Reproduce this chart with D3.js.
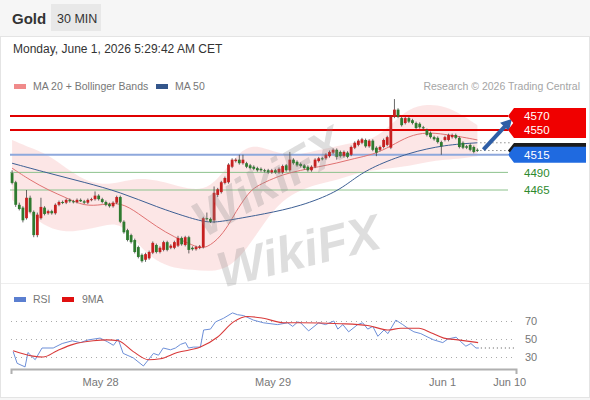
<!DOCTYPE html>
<html>
<head>
<meta charset="utf-8">
<script src="https://cdn.jsdelivr.net/npm/d3@7"></script>
<style>
  body { margin: 0; background: #fff; font-family: "Liberation Sans", Arial, sans-serif; }
</style>
</head>
<body>
<div id="chart"></div>
<script>
// candles, 30 min, index 0 = first bar on screen
const candleOpen = [
  4489,4476,4444,4440,4425,4454,4434,4401,4425,4440,
  4432,4435,4432,4444,4448,4447,4451,4449,4448,4451,
  4449,4447,4451,4452,4457,4452,4448,4445,4442,4447,
  4455,4420,4408,4401,4394,4384,4373,4366,4368,4376,
  4387,4377,4380,4391,4383,4383,4386,4397,4387,4398,
  4383,4381,4383,4384,4425,4424,4422,4458,4462,4475,
  4476,4498,4506,4508,4503,4503,4500,4498,4496,4495,
  4493,4493,4490,4493,4490,4490,4500,4493,4508,4505,
  4502,4500,4498,4493,4498,4506,4510,4510,4513,4518,
  4522,4519,4513,4518,4515,4525,4529,4532,4536,4527,
  4535,4525,4522,4526,4529,4525,4569,4579,4567,4560,
  4567,4564,4560,4559,4554,4550,4546,4540,4539,4533,
  4536,4536,4540,4543,4539,4532,4527,4529,4526,4522
];
const candleHigh = [
  4493,4478,4447,4442,4465,4457,4436,4433,4454,4442,
  4437,4437,4446,4450,4450,4453,4453,4451,4453,4453,
  4451,4453,4454,4463,4459,4454,4450,4447,4449,4457,
  4457,4422,4410,4403,4396,4386,4375,4376,4379,4392,
  4389,4385,4393,4393,4388,4393,4400,4399,4400,4400,
  4385,4386,4387,4427,4433,4426,4470,4468,4478,4484,
  4503,4510,4510,4515,4515,4505,4502,4500,4498,4497,
  4495,4495,4495,4495,4497,4501,4502,4519,4510,4507,
  4504,4502,4500,4500,4510,4512,4512,4517,4521,4524,
  4524,4521,4521,4520,4528,4534,4537,4539,4538,4537,
  4537,4527,4528,4538,4542,4571,4594,4581,4569,4569,
  4569,4566,4562,4561,4556,4552,4548,4542,4541,4535,
  4542,4545,4545,4545,4541,4534,4529,4531,4528,4524
];
const candleLow = [
  4473,4441,4436,4419,4423,4432,4398,4398,4423,4429,
  4430,4430,4430,4442,4445,4445,4447,4446,4446,4448,
  4445,4445,4449,4450,4450,4446,4442,4440,4440,4445,
  4418,4403,4392,4389,4375,4368,4362,4363,4366,4374,
  4375,4375,4378,4378,4381,4381,4384,4386,4385,4375,
  4379,4379,4381,4382,4422,4418,4418,4455,4460,4473,
  4474,4496,4504,4501,4501,4496,4494,4493,4491,4491,
  4490,4488,4488,4488,4488,4488,4491,4491,4501,4498,
  4497,4494,4491,4491,4496,4504,4507,4508,4511,4516,
  4508,4511,4511,4510,4513,4523,4527,4530,4525,4525,
  4520,4513,4520,4524,4527,4523,4567,4567,4555,4558,
  4560,4558,4551,4552,4551,4541,4538,4535,4531,4515,
  4534,4534,4538,4537,4524,4523,4523,4520,4517,4519
];
const candleClose = [
  4475,4444,4438,4422,4454,4434,4401,4430,4441,4431,
  4435,4432,4444,4448,4447,4451,4449,4448,4451,4449,
  4447,4451,4452,4457,4452,4448,4444,4442,4447,4455,
  4420,4405,4394,4391,4377,4370,4364,4374,4377,4390,
  4377,4383,4391,4380,4386,4391,4397,4388,4398,4380,
  4381,4384,4385,4425,4424,4420,4461,4466,4476,4482,
  4501,4508,4508,4503,4508,4498,4496,4495,4493,4493,
  4492,4490,4493,4490,4495,4499,4493,4508,4503,4500,
  4499,4496,4493,4498,4508,4510,4509,4515,4519,4522,
  4512,4513,4519,4512,4526,4532,4535,4537,4527,4535,
  4522,4518,4526,4536,4540,4569,4579,4569,4557,4567,
  4562,4560,4553,4554,4553,4543,4540,4537,4533,4527,
  4540,4543,4543,4539,4526,4525,4525,4522,4519,4521
];

// indicators at sample bars
const bandIdx   = [0,5,10,15,20,25,30,35,40,45,50,55,60,65,70,75,80,85,90,95,100,105,110,115,120,125,129];
const bandUpper = [4536,4525,4515,4496,4479,4472,4476,4482,4479,4472,4465,4468,4500,4529,4525,4515,4515,4522,4527,4533,4536,4557,4581,4587,4584,4571,4557];
const bandLower = [4451,4430,4411,4405,4408,4414,4420,4387,4363,4354,4352,4349,4354,4380,4420,4451,4465,4474,4479,4488,4493,4496,4499,4505,4508,4510,4513];

const ma20Idx = [0,5,10,15,20,25,30,35,40,45,50,53,57,60,62,65,67,70,75,80,85,90,95,100,105,110,115,120,125,129];
const ma20Val = [4496,4479,4465,4454,4442,4444,4448,4432,4413,4398,4387,4380,4394,4415,4434,4457,4468,4476,4487,4493,4498,4503,4510,4515,4527,4542,4547,4544,4540,4536];

const ma50Idx = [0,10,20,30,40,50,55,60,70,80,90,95,100,110,120,129];
const ma50Val = [4503,4489,4476,4462,4441,4424,4418,4422,4431,4442,4462,4482,4498,4518,4529,4532];

const rsiIdx = [0.3,1.4,3.6,4.4,6.4,8.3,11.4,13.9,16.7,18.9,21.1,24.4,26.4,28.1,29.4,30.8,33.6,36.4,37.8,39.2,40.6,41.9,43.9,45.3,46.7,48.1,48.9,50.3,52.2,53.1,55,56.4,58.6,61.1,62.5,64.2,66.9,69.7,73.6,76.4,77.8,79.2,80,82.2,85,86.9,89.2,90.3,91.7,93.3,95.8,97.2,98.6,100,101.4,103.1,104.2,106.4,108.3,109.7,111.4,113.3,115.3,116.9,119.4,120.8,123.1,124.4,125.8,127.2,128.6,129.4];
const rsiVal = [36,23,19,35,27,40,40,45,48,46,49,51,47,43,50,34,29,20,27,34,32,40,38,40,44,46,40,41,41,60,61,69,73,79,77,76,71,68,66,68,64,69,68,59,68,66,70,61,66,58,66,68,61,64,53,60,56,71,66,62,58,56,52,49,46,50,52,47,42,45,40,40];

const rsiMaIdx = [0.3,5.8,8.6,12.5,16.9,22.5,26.4,29.4,33.6,37.8,41.1,45.8,52.2,56.9,61.4,65.3,69.7,75.3,80,91.1,98.6,104.2,107.8,112.8,116.1,119.7,123.6,129.2];
const rsiMaVal = [37,31,30,37,44,48,49,48,36,27,28,35,41,52,69,75,73,68,68,67,65,60,62,62,57,51,49,46];

const resistance = [4570, 4550];
const pivot = [4515];
const support = [4490, 4465];
const lastPrice = 4521;
const target = 4566;

const rsiLevels = [30, 50, 70];
const dateTickIdx = [24.4, 72.2, 119.2, 137.8];
const dateTickLabels = ['May 28', 'May 29', 'Jun 1', 'Jun 10'];

const W = 590, H = 400;
const svg = d3.select('#chart').append('svg').attr('width', W).attr('height', H);

svg.append('rect').attr('width', W).attr('height', H).attr('fill', '#f6f6f6');
svg.append('rect').attr('x', 0.5).attr('y', 36.5).attr('width', W - 1).attr('height', 361)
  .attr('fill', '#fff').attr('stroke', '#e4e4e4');
svg.append('line').attr('x1', 1).attr('x2', W - 1).attr('y1', 283.5).attr('y2', 283.5).attr('stroke', '#eeeeee');

// header
svg.append('text').attr('x', 12).attr('y', 24).attr('font-size', 15).attr('font-weight', 'bold')
  .attr('fill', '#333').text('Gold');
svg.append('rect').attr('x', 51).attr('y', 4).attr('width', 50).attr('height', 27).attr('fill', '#e8e8e8');
svg.append('text').attr('x', 57).attr('y', 23).attr('font-size', 12.5).attr('fill', '#333').text('30 MIN');
svg.append('text').attr('x', 13).attr('y', 53).attr('font-size', 12).attr('fill', '#333')
  .text('Monday, June 1, 2026 5:29:42 AM CET');

// legend
const legend = svg.append('g').attr('font-size', 10.5).attr('fill', '#777');
legend.append('rect').attr('x', 14).attr('y', 84).attr('width', 12).attr('height', 5).attr('fill', '#f08a8a');
legend.append('text').attr('x', 33).attr('y', 90).text('MA 20 + Bollinger Bands');
legend.append('rect').attr('x', 156).attr('y', 84).attr('width', 12).attr('height', 5).attr('fill', '#34568b');
legend.append('text').attr('x', 175).attr('y', 90).text('MA 50');
svg.append('text').attr('x', 580).attr('y', 90).attr('text-anchor', 'end').attr('font-size', 10.5)
  .attr('fill', '#a5a5a5').text('Research \u00a9 2026 Trading Central');

// scales
const xScale = d3.scaleLinear().domain([-0.3, 139.7]).range([11, 516]);
const yP = d3.scaleLinear().domain([4465, 4570]).range([190, 116]);
const yR = d3.scaleLinear().domain([30, 70]).range([357, 321]);

const main = svg.append('g');

// bollinger band
const band = bandIdx.map((d, i) => ({ i: d, hi: bandUpper[i], lo: bandLower[i] }));
main.append('path').datum(band)
  .attr('fill', '#f28b8b').attr('fill-opacity', 0.22)
  .attr('d', d3.area().x(d => xScale(d.i)).y0(d => yP(d.lo)).y1(d => yP(d.hi)).curve(d3.curveBasis));

// watermark
const wm = svg.append('g').attr('font-size', 50).attr('font-weight', 'bold').attr('font-style', 'italic')
  .attr('fill', '#888').attr('fill-opacity', 0.28);
wm.append('text').attr('transform', 'translate(205,238) rotate(-30)').text('WikiFX');
wm.append('text').attr('transform', 'translate(222,288) rotate(-14)').text('WikiFX');

// level lines
const x0 = 10, xEnd = 508;
main.selectAll('.support').data(support).enter().append('line')
  .attr('x1', x0).attr('x2', xEnd).attr('y1', d => yP(d)).attr('y2', d => yP(d))
  .attr('stroke', '#8cc28c').attr('stroke-width', 1);
main.selectAll('.pivot').data(pivot).enter().append('line')
  .attr('x1', x0).attr('x2', xEnd).attr('y1', d => yP(d)).attr('y2', d => yP(d))
  .attr('stroke', '#8ea8dc').attr('stroke-width', 2);
main.selectAll('.resist').data(resistance).enter().append('line')
  .attr('x1', x0).attr('x2', xEnd).attr('y1', d => yP(d)).attr('y2', d => yP(d))
  .attr('stroke', '#e00000').attr('stroke-width', 2);

// moving averages
const lineGen = d3.line().x(d => xScale(d[0])).y(d => yP(d[1])).curve(d3.curveBasis);
main.append('path').datum(ma20Idx.map((d, i) => [d, ma20Val[i]]))
  .attr('fill', 'none').attr('stroke', '#e07272').attr('stroke-width', 1).attr('d', lineGen);
main.append('path').datum(ma50Idx.map((d, i) => [d, ma50Val[i]]))
  .attr('fill', 'none').attr('stroke', '#3d5f94').attr('stroke-width', 1).attr('d', lineGen);

// dotted extensions
const lastIdx = candleClose.length - 1;
[ma50Val[ma50Val.length - 1], lastPrice].forEach(v => {
  main.append('line').attr('x1', xScale(lastIdx) + 3).attr('x2', xEnd + 4)
    .attr('y1', yP(v)).attr('y2', yP(v))
    .attr('stroke', '#555').attr('stroke-width', 1).attr('stroke-dasharray', '1,3');
});

// candles
const candles = candleClose.map((c, i) => ({ i, o: candleOpen[i], h: candleHigh[i], l: candleLow[i], c }));
const bw = 2.8;
const cg = main.selectAll('.candle').data(candles).enter().append('g');
cg.append('line')
  .attr('x1', d => xScale(d.i)).attr('x2', d => xScale(d.i))
  .attr('y1', d => yP(d.h)).attr('y2', d => yP(d.l))
  .attr('stroke', '#444').attr('stroke-width', 0.8);
cg.append('rect')
  .attr('x', d => xScale(d.i) - bw / 2).attr('width', bw)
  .attr('y', d => yP(Math.max(d.o, d.c)))
  .attr('height', d => Math.max(1, Math.abs(yP(d.o) - yP(d.c))))
  .attr('fill', d => d.c >= d.o ? '#c62020' : '#2f7a2f');

// arrow to target
const ax1 = xScale(lastIdx) + 6, ay1 = yP(lastPrice) - 1;
const ax2 = xScale(138.6), ay2 = yP(target);
const ang = Math.atan2(ay2 - ay1, ax2 - ax1);
main.append('line').attr('x1', ax1).attr('y1', ay1)
  .attr('x2', ax2 - 7 * Math.cos(ang)).attr('y2', ay2 - 7 * Math.sin(ang))
  .attr('stroke', '#2e5ea6').attr('stroke-width', 4).attr('stroke-linecap', 'butt');
const hl = 11, hw = 6;
const bx = ax2 - hl * Math.cos(ang), by = ay2 - hl * Math.sin(ang);
main.append('path')
  .attr('d', `M${ax2},${ay2}L${bx + hw * Math.sin(ang)},${by - hw * Math.cos(ang)}L${bx - hw * Math.sin(ang)},${by + hw * Math.cos(ang)}Z`)
  .attr('fill', '#2e5ea6');

// price labels
function priceTag(v, fill, h) {
  const y = yP(v), lx = 508, rx = 586;
  main.append('path')
    .attr('d', `M${lx},${y}L${lx + 6},${y - h / 2}L${rx},${y - h / 2}L${rx},${y + h / 2}L${lx + 6},${y + h / 2}Z`)
    .attr('fill', fill);
  main.append('text').attr('x', 524).attr('y', y).attr('dy', '0.36em')
    .attr('font-size', 11.5).attr('fill', '#fff').text(v);
}
resistance.forEach(v => priceTag(v, '#f00000', 16));
priceTag(lastPrice, '#1c1c1c', 15);
pivot.forEach(v => priceTag(v, '#1f6ae0', 16));
main.selectAll('.supLbl').data(support).enter().append('text')
  .attr('x', 524).attr('y', d => yP(d)).attr('dy', '0.36em')
  .attr('font-size', 11.5).attr('fill', '#2d8a2d').text(d => d);

// RSI panel
const rsiG = svg.append('g');
rsiG.append('rect').attr('x', 14).attr('y', 297).attr('width', 12).attr('height', 5).attr('fill', '#5b7fd0');
rsiG.append('text').attr('x', 33).attr('y', 303).attr('font-size', 10.5).attr('fill', '#777').text('RSI');
rsiG.append('rect').attr('x', 62).attr('y', 297).attr('width', 12).attr('height', 5).attr('fill', '#e01010');
rsiG.append('text').attr('x', 82).attr('y', 303).attr('font-size', 10.5).attr('fill', '#777').text('9MA');

rsiG.selectAll('.grid').data(rsiLevels).enter().append('line')
  .attr('x1', 11).attr('x2', 516).attr('y1', d => yR(d) + 0.5).attr('y2', d => yR(d) + 0.5)
  .attr('stroke', '#aaa').attr('stroke-dasharray', '1,4');

const yAxisR = rsiG.append('g').attr('transform', 'translate(519,0)')
  .call(d3.axisRight(yR).tickValues(rsiLevels).tickSize(0).tickPadding(6));
yAxisR.select('.domain').remove();
yAxisR.selectAll('text').attr('font-size', 11).attr('fill', '#777').attr('font-family', '"Liberation Sans", Arial, sans-serif');

const rsiLine = d3.line().x(d => xScale(d[0])).y(d => yR(d[1]));
rsiG.append('path').datum(rsiIdx.map((d, i) => [d, rsiVal[i]]))
  .attr('fill', 'none').attr('stroke', '#6d8fd8').attr('stroke-width', 1).attr('d', rsiLine);
rsiG.append('path').datum(rsiMaIdx.map((d, i) => [d, rsiMaVal[i]]))
  .attr('fill', 'none').attr('stroke', '#d83a3a').attr('stroke-width', 1.1)
  .attr('d', rsiLine.curve(d3.curveMonotoneX));
const lastRsi = rsiVal[rsiVal.length - 1];
rsiG.append('line').attr('x1', xScale(rsiIdx[rsiIdx.length - 1]) + 2).attr('x2', 514)
  .attr('y1', yR(lastRsi)).attr('y2', yR(lastRsi))
  .attr('stroke', '#555').attr('stroke-dasharray', '1,3');

// time axis
const xAxis = svg.append('g').attr('transform', 'translate(0,369)')
  .call(d3.axisBottom(xScale).tickValues(dateTickIdx)
    .tickFormat((d, i) => dateTickLabels[i]).tickSizeInner(0).tickSizeOuter(5).tickPadding(9));
xAxis.select('.domain').attr('stroke', '#b0b0b0').attr('stroke-width', 2);
xAxis.selectAll('text').attr('font-size', 11).attr('fill', '#777').attr('font-family', '"Liberation Sans", Arial, sans-serif');
</script>
</body>
</html>
